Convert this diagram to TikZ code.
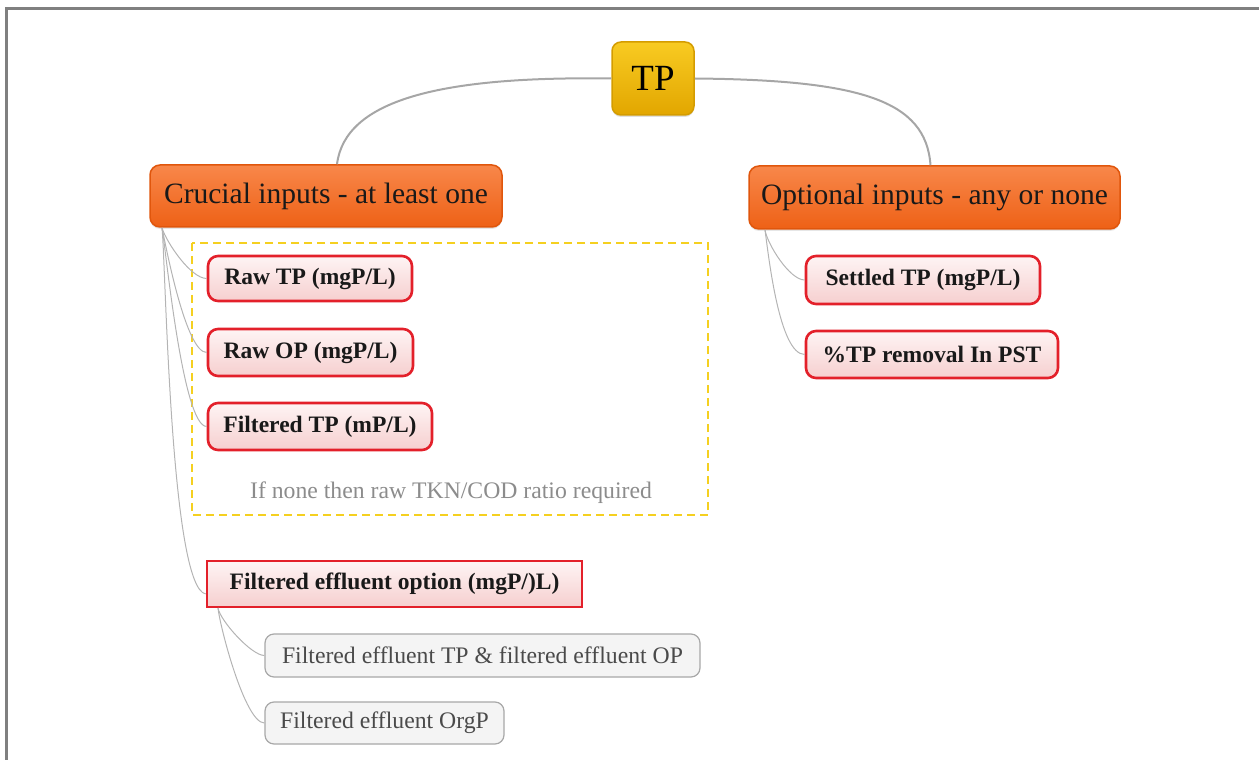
\documentclass[tikz,border=0pt]{standalone}
\usepackage{fontspec}
\setmainfont{Liberation Serif}
\usetikzlibrary{shadows}

\newdimen\pxu
\pxu=0.02cm

\definecolor{frameGray}{HTML}{808080}
\definecolor{twigGray}{HTML}{B4B4B4}
\definecolor{stemGray}{HTML}{A6A6A6}
\definecolor{goldTop}{HTML}{F8CB22}
\definecolor{goldBot}{HTML}{E2A600}
\definecolor{goldLine}{HTML}{D49C00}
\definecolor{orangeTop}{HTML}{F8874A}
\definecolor{orangeBot}{HTML}{EE6116}
\definecolor{orangeLine}{HTML}{E0560C}
\definecolor{itemRed}{HTML}{E3202A}
\definecolor{itemPinkTop}{HTML}{FEF4F4}
\definecolor{itemPinkBot}{HTML}{F6CFCF}
\definecolor{subFill}{HTML}{F4F4F4}
\definecolor{subLine}{HTML}{A8A8A8}
\definecolor{subText}{HTML}{4A4A4A}
\definecolor{noteText}{HTML}{8C8C8C}
\definecolor{dashYellow}{HTML}{F5D020}

\tikzset{
  rootbox/.style={draw=goldLine, line width=1.5\pxu, rounded corners=9\pxu,
    top color=goldTop, bottom color=goldBot, text=black,
    font=\fontsize{21}{25}\selectfont, inner sep=0pt,
    drop shadow={shadow xshift=0pt, shadow yshift=-2\pxu, opacity=0.25}},
  headbox/.style={draw=orangeLine, line width=1.5\pxu, rounded corners=10\pxu,
    top color=orangeTop, bottom color=orangeBot, text=black!90,
    font=\fontsize{16.8}{20}\selectfont, inner sep=0pt,
    drop shadow={shadow xshift=0pt, shadow yshift=-2\pxu, opacity=0.2}},
  itembox/.style={draw=itemRed, line width=2.6\pxu, rounded corners=10\pxu,
    top color=itemPinkTop, bottom color=itemPinkBot, text=black!90,
    font=\fontsize{13.4}{16}\selectfont\bfseries, inner sep=0pt},
  squarebox/.style={itembox, rounded corners=0pt},
  subbox/.style={draw=subLine, line width=1.2\pxu, rounded corners=9\pxu,
    fill=subFill, text=subText, font=\fontsize{13.5}{16}\selectfont, inner sep=0pt},
  stem/.style={draw=stemGray, line width=2\pxu},
  twig/.style={draw=twigGray, line width=1\pxu},
}

\begin{document}
\begin{tikzpicture}[x=1\pxu, y=-1\pxu]
\useasboundingbox (0,0) rectangle (1259,760);

% outer frame (top and left edges)
\draw[frameGray, line width=2.2\pxu] (6.5,770) -- (6.5,8.5) -- (1262,8.5);

% dashed group around the crucial input choices
\draw[dashYellow, line width=2\pxu, dash pattern=on 8\pxu off 5\pxu]
  (192,243) rectangle (708,515);
\node[text=noteText, font=\fontsize{13.5}{16}\selectfont] (note) at (451,493)
  {If none then raw TKN/COD ratio required};

% root
\node[rootbox, minimum width=82\pxu, minimum height=73\pxu] (tp) at (653,78.5) {TP};

% main branches
\node[headbox, minimum width=352\pxu, minimum height=62\pxu] (crucial) at (326,196) {Crucial inputs - at least one};
\node[headbox, minimum width=371\pxu, minimum height=63\pxu] (optional) at (934.5,197.5) {Optional inputs - any or none};

% crucial inputs
\node[itembox, minimum width=204\pxu, minimum height=45\pxu] (rawtp) at (310,278.5) {Raw TP (mgP/L)};
\node[itembox, minimum width=205\pxu, minimum height=47\pxu] (rawop) at (310.5,352.5) {Raw OP (mgP/L)};
\node[itembox, minimum width=224\pxu, minimum height=47\pxu] (filttp) at (320,426.5) {Filtered TP (mP/L)};
\node[squarebox, minimum width=375\pxu, minimum height=46\pxu] (feo) at (394.5,584) {Filtered effluent option (mgP/)L)};

% filtered effluent sub-options
\node[subbox, minimum width=435\pxu, minimum height=43\pxu] (fetp) at (482.5,655.5) {Filtered effluent TP \& filtered effluent OP};
\node[subbox, minimum width=239\pxu, minimum height=42\pxu] (feorgp) at (384.5,723) {Filtered effluent OrgP};

% optional inputs
\node[itembox, minimum width=234\pxu, minimum height=48\pxu] (settled) at (923,280) {Settled TP (mgP/L)};
\node[itembox, minimum width=252\pxu, minimum height=47\pxu] (pst) at (932,354.5) {\%TP removal In PST};

% root to branches
\draw[stem] (tp.west) .. controls (440,76) and (345,100) .. ([xshift=11\pxu]crucial.north);
\draw[stem] (tp.east) .. controls (860,80) and (926,100) .. ([xshift=-4\pxu]optional.north);

% branch feet
\coordinate (crfoot) at (162,228);
\coordinate (opfoot) at (765,230);
\coordinate (fefoot) at (218,608);

% thin links from each branch to its inputs
\draw[twig] (crfoot) to[out=-72, in=180, looseness=0.6] (rawtp.west);
\draw[twig] (crfoot) to[out=-78, in=180, looseness=0.4] (rawop.west);
\draw[twig] (crfoot) to[out=-80, in=180, looseness=0.3] (filttp.west);
\draw[twig] (crfoot) to[out=-84, in=170, looseness=0.25] ([yshift=-10\pxu]feo.west);
\draw[twig] (opfoot) to[out=-80, in=180, looseness=0.6] (settled.west);
\draw[twig] (opfoot) to[out=-82, in=180, looseness=0.5] (pst.west);
\draw[twig] (fefoot) to[out=-80, in=180, looseness=0.5] (fetp.west);
\draw[twig] (fefoot) to[out=-84, in=180, looseness=0.4] (feorgp.west);
\end{tikzpicture}
\end{document}
